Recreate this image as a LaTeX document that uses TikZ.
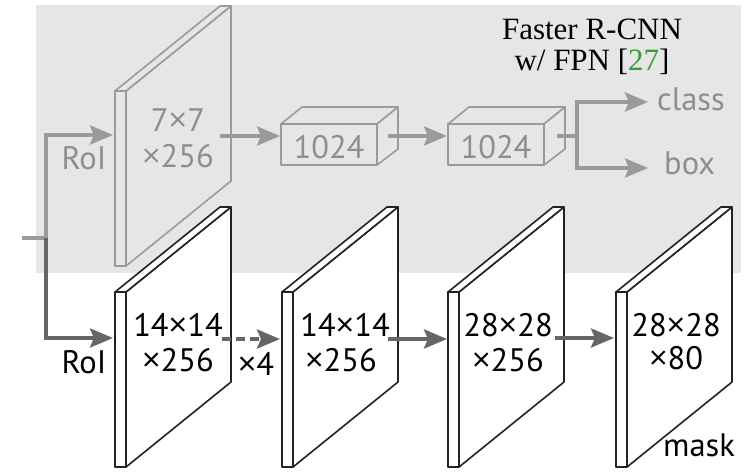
\documentclass[tikz,border=0pt]{standalone}
\usepackage{fontspec}
\setmainfont{PT Sans}
\newfontfamily\titlefont{Liberation Serif}
\newfontfamily\mulfont{Open Sans}
\newcommand\by{{\mulfont ×}}
\usetikzlibrary{arrows.meta}

\definecolor{panelbg}{HTML}{E6E6E6}
\definecolor{lightline}{HTML}{9A9A9A}
\definecolor{lighttext}{HTML}{8E8E8E}
\definecolor{darkline}{HTML}{666666}
\definecolor{slabline}{HTML}{222222}
\definecolor{citegreen}{HTML}{3A9A3A}

% feature map drawn as a thin slab; #1 = front top-left corner, #2 = style
\newcommand\featslab[2]{%
  \begin{scope}[shift={#1}]
    \draw[#2] (11,0) -- (116,-85) -- (116,90) -- (11,175) -- cycle;
    \draw[#2] (0,0) -- (105,-85) -- (116,-85) -- (11,0) -- cycle;
    \draw[#2] (0,0) rectangle (11,175);
  \end{scope}}

% fully connected layer drawn as a box; #1 = front top-left corner
\newcommand\fcbox[1]{%
  \begin{scope}[shift={#1}]
    \draw[boxline] (0,0) -- (21,-17) -- (117,-17) -- (96,0) -- cycle;
    \draw[boxline] (96,0) -- (117,-17) -- (117,25) -- (96,41) -- cycle;
    \draw[boxline] (0,0) rectangle (96,41);
  \end{scope}}

\begin{document}
\begin{tikzpicture}[x=1pt,y=-1pt,
  lbl/.style={font=\fontsize{32.5}{36}\selectfont, inner sep=0pt},
  greylbl/.style={lbl, text=lighttext},
  darklbl/.style={lbl, text=black},
  topslab/.style={draw=lightline, fill=panelbg, line width=1.6pt, line join=round},
  botslab/.style={draw=slabline, fill=white, line width=1.6pt, line join=round},
  boxline/.style={draw=lightline, fill=panelbg, line width=1.6pt, line join=round},
  conn/.style={line width=4pt},
  tip/.style={-{Stealth[length=23pt,width=19pt,inset=4pt]}},
  greyconn/.style={conn, draw=lightline},
  darkconn/.style={conn, draw=darkline},
]
\useasboundingbox (0,0) rectangle (754,471);

% shaded panel of the box/class head
\fill[panelbg] (36,5) rectangle (741,273);

% title
\node[font=\titlefont\fontsize{31}{33}\selectfont, align=center, inner sep=0pt]
  (title) at (592,47) {Faster R-CNN\\[-2pt] w/ FPN [\textcolor{citegreen}{27}]};

% box/class head
\featslab{(115,91)}{topslab}
\node[greylbl] (tlbl1) at (178,120) {7\by7};
\node[greylbl] (tlbl2) at (178,156) {\by256};
\fcbox{(281,124)}
\node[greylbl] (fc1) at (329,147) {1024};
\fcbox{(448,124)}
\node[greylbl] (fc2) at (496,147) {1024};
\node[greylbl, anchor=west] (cls) at (657,99) {class};
\node[greylbl, anchor=west] (bx) at (664,163) {box};

% mask head
\featslab{(115,292)}{botslab}
\node[darklbl] (m1a) at (178,325) {14\by14};
\node[darklbl] (m1b) at (178,360) {\by256};
\featslab{(282,292)}{botslab}
\node[darklbl] (m2a) at (345,325) {14\by14};
\node[darklbl] (m2b) at (341,360) {\by256};
\featslab{(448,292)}{botslab}
\node[darklbl] (m3a) at (508,325) {28\by28};
\node[darklbl] (m3b) at (508,360) {\by256};
\featslab{(616,292)}{botslab}
\node[darklbl] (m4a) at (676,325) {28\by28};
\node[darklbl] (m4b) at (676,358) {\by80};
\node[darklbl] (masklbl) at (699,445) {mask};

\node[greylbl] (roiA) at (84,158) {RoI};
\node[darklbl] (roiB) at (84,362) {RoI};
\node[darklbl] (rep) at (256,364) {\by4};

% connector end points
\coordinate (src) at (22,238);
\coordinate (fork) at (46,238);
\coordinate (tin) at (113,135);
\coordinate (tout) at (220,136);
\coordinate (fc1in) at (280,136);
\coordinate (fc1out) at (388,136);
\coordinate (fc2in) at (447,136);
\coordinate (fc2out) at (557,136);
\coordinate (split) at (577,136);
\coordinate (clsin) at (648,102);
\coordinate (bxin) at (648,168);
\coordinate (m1in) at (113,338);
\coordinate (m1out) at (222,339);
\coordinate (m2in) at (280,339);
\coordinate (m2out) at (388,339);
\coordinate (m3in) at (447,339);
\coordinate (m3out) at (555,338);
\coordinate (m4in) at (614,338);

% connectors of the box/class head
\draw[greyconn] (src) -- (fork);
\draw[greyconn, tip] (fork) |- (tin);
\draw[greyconn, tip] (tout) -- (fc1in);
\draw[greyconn, tip] (fc1out) -- (fc2in);
\draw[greyconn] (fc2out) -- (split);
\draw[greyconn, tip] (split) |- (clsin);
\draw[greyconn, tip] (split) |- (bxin);

% connectors of the mask head
\draw[darkconn, tip] (fork) |- (m1in);
\draw[darkconn, tip, dash pattern=on 9pt off 5pt] (m1out) -- (m2in);
\draw[darkconn, tip] (m2out) -- (m3in);
\draw[darkconn, tip] (m3out) -- (m4in);
\end{tikzpicture}
\end{document}
